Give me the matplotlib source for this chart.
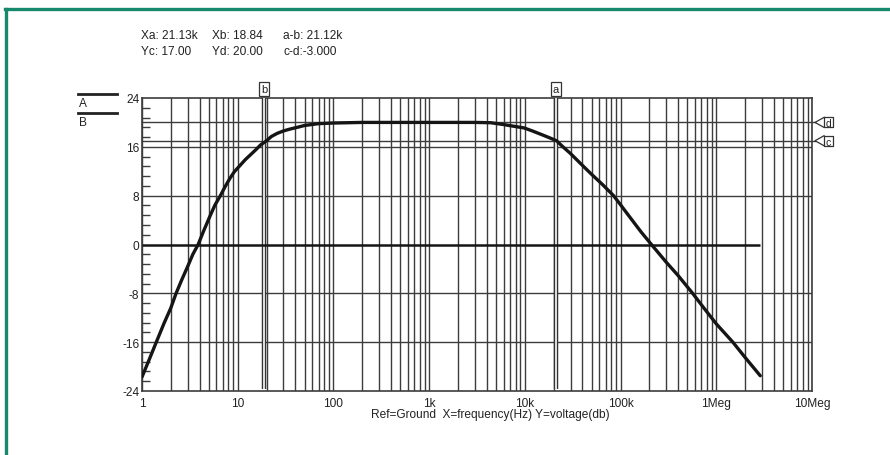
import matplotlib
matplotlib.use("Agg")
import matplotlib.pyplot as plt
from matplotlib.lines import Line2D
import matplotlib.transforms as mtransforms
from matplotlib.ticker import LogLocator, FixedLocator, NullFormatter, MultipleLocator

plt.rcParams['font.family'] = ['Liberation Sans', 'DejaVu Sans']

# ---- data ----
freq_a = [1, 1.2, 1.41, 1.7, 2, 2.27, 2.6, 3, 3.4, 3.86, 4.4, 5.18, 5.8, 6.59, 7.4,
          8.26, 9.2, 10.5, 12, 13.6, 15.4, 17.3, 20, 22.5, 25.8, 30, 35, 42, 50, 70,
          100, 200, 1e3, 3e3, 4.4e3, 6e3, 7.8e3, 9.8e3, 12e3, 15e3, 18e3, 21.4e3,
          25e3, 30e3, 38e3, 49e3, 65e3, 84.5e3, 100e3, 120e3, 163e3, 210e3, 300e3,
          400e3, 566e3, 750e3, 1e6, 1.49e6, 2e6, 2.88e6]
db_a = [-21.7, -18.7, -16, -12.9, -10.4, -8, -5.8, -3.6, -1.6, 0, 2.2, 4.8, 6.5, 8, 9.5,
        10.8, 11.9, 12.9, 13.9, 14.7, 15.5, 16.3, 17, 17.7, 18.2, 18.6, 18.9, 19.2, 19.5, 19.8,
        19.9, 20, 20, 20, 19.95, 19.65, 19.35, 19.1, 18.6, 18.0, 17.5, 17,
        16.0, 14.9, 13.3, 11.6, 9.8, 8, 6.5, 4.85, 2.1, 0, -2.9,
        -5.1, -8, -10.5, -13.0, -16, -18.5, -21.5]
freq_b = [1, 2.88e6]
db_b = [0, 0]

cursor_x = {'a': 21.13e3, 'b': 18.84}
cursor_y = {'c': 17.0, 'd': 20.0}

xtick_vals = [1, 10, 100, 1e3, 1e4, 1e5, 1e6, 1e7]
xtick_labels = ['1', '10', '100', '1k', '10k', '100k', '1Meg', '10Meg']
ytick_vals = [-24, -16, -8, 0, 8, 16, 24]
hgrid_vals = [-16, -8, 8, 16]

header_row1 = ['Xa: 21.13k', 'Xb: 18.84', 'a-b: 21.12k']
header_row2 = ['Yc: 17.00', 'Yd: 20.00', 'c-d:-3.000']
xlabel_text = 'Ref=Ground  X=frequency(Hz) Y=voltage(db)'

W, H = 890, 456
fig = plt.figure(figsize=(W / 100, H / 100), dpi=100)
fig.patch.set_facecolor('white')

def fx(px):
    return px / W

def fy(py):
    return 1 - py / H

GRID = '#3c3c3c'
INK = '#151515'
TXT = '#222222'
FS = 8.6

ax = fig.add_axes([fx(142), fy(392), fx(812) - fx(142), fy(99) - fy(392)])
ax.set_xscale('log')
ax.set_xlim(1, 1e7)
ax.set_ylim(-24, 24)

# vertical grid on every 1..9 of each decade
ax.xaxis.set_major_locator(FixedLocator(xtick_vals))
ax.xaxis.set_minor_locator(LogLocator(base=10, subs=range(2, 10), numticks=20))
ax.xaxis.set_minor_formatter(NullFormatter())
ax.set_xticklabels(xtick_labels, fontsize=FS, color=TXT)
ax.tick_params(axis='x', which='both', length=0, pad=4)
ax.grid(True, axis='x', which='both', color=GRID, lw=1.0)

# y ticks
ax.set_yticks(ytick_vals)
ax.set_yticklabels([str(v) for v in ytick_vals], fontsize=FS, color=TXT)
ax.yaxis.set_minor_locator(MultipleLocator(1.6))
ax.tick_params(axis='y', which='major', length=0, pad=2)
ax.tick_params(axis='y', which='minor', length=6, direction='in', color=GRID, width=1.0)
for v in hgrid_vals:
    ax.axhline(v, color=GRID, lw=1.0, zorder=1)

for s in ax.spines.values():
    s.set_color(GRID)
    s.set_linewidth(1.2)

# horizontal cursors c, d with "<[x]" tags on the right
trans_y = mtransforms.blended_transform_factory(ax.transAxes, ax.transData)
ident = mtransforms.IdentityTransform()
for name, val in cursor_y.items():
    ax.plot([0, 1.004], [val, val], transform=trans_y, color=GRID, lw=1.0,
            clip_on=False, zorder=2)
    px, py = trans_y.transform((1.0, val))
    # arrow head "<"
    fig.add_artist(Line2D([px + 12, px + 3, px + 12], [py + 5, py, py - 5],
                          transform=ident, color='#333333', lw=0.9))
    # box with letter
    fig.add_artist(Line2D([px + 12, px + 21, px + 21, px + 12, px + 12],
                          [py + 5, py + 5, py - 5, py - 5, py + 5],
                          transform=ident, color='#333333', lw=0.9))
    ax.text(1.0, val, name, transform=trans_y + mtransforms.ScaledTranslation(16.5 / 100, -1 / 100, fig.dpi_scale_trans),
            fontsize=7.5, ha='center', va='center', color=TXT, clip_on=False)

# vertical cursors a, b (hollow double line)
trans_x = mtransforms.blended_transform_factory(ax.transData, ax.transAxes)
for name, val in cursor_x.items():
    ax.plot([val, val], [0.008, 1.0], transform=trans_x, color='#333333', lw=3.2,
            clip_on=False, zorder=3, solid_capstyle='butt')
    ax.plot([val, val], [0.008, 1.0], transform=trans_x, color='white', lw=1.2,
            clip_on=False, zorder=3.1, solid_capstyle='butt')
    ax.text(val, 1.03, name, transform=trans_x, fontsize=8, ha='center', va='center',
            color=TXT,
            bbox=dict(boxstyle='square,pad=0.2', fc='white', ec='#333333', lw=0.9))

# traces
ax.plot(freq_b, db_b, color=INK, lw=1.8, zorder=4, solid_capstyle='butt')
ax.plot(freq_a, db_a, color=INK, lw=2.4, zorder=5, solid_capstyle='round',
        solid_joinstyle='round')

# x axis title
fig.text(fx(490), fy(415), xlabel_text, fontsize=FS, ha='center', va='center', color=TXT)

# header readouts
cols = [141, 212, 283]
for x, t in zip(cols, header_row1):
    fig.text(fx(x), fy(36), t, fontsize=FS, ha='left', va='center', color=TXT)
for x, t in zip(cols, header_row2):
    fig.text(fx(x), fy(52), t, fontsize=FS, ha='left', va='center', color=TXT)

# trace legend A / B
for py, lab in [(95, 'A'), (114, 'B')]:
    fig.add_artist(Line2D([fx(78), fx(117)], [fy(py), fy(py)], color=TXT, lw=2.0))
    fig.text(fx(79), fy(py + 9), lab, fontsize=FS, ha='left', va='center', color=TXT)

# green frame
GREEN = '#16886c'
fig.add_artist(Line2D([fx(6), fx(6)], [fy(10), 0], color=GREEN, lw=2.4))
fig.add_artist(Line2D([fx(5), 1], [fy(10), fy(10)], color=GREEN, lw=2.4))

fig.savefig('out.png', dpi=100, facecolor='white')
